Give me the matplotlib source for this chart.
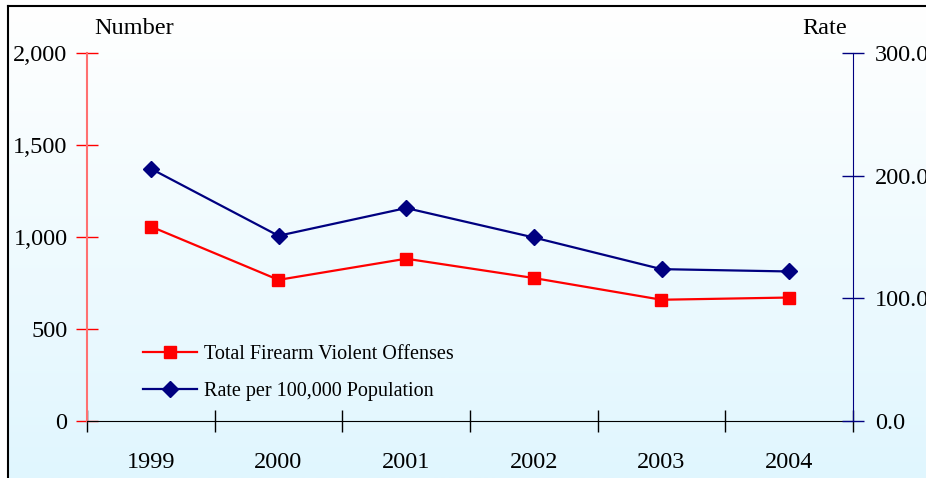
import numpy as np
import matplotlib
matplotlib.use("Agg")
from matplotlib import pyplot as plt
from matplotlib.lines import Line2D
from matplotlib.ticker import FuncFormatter

years = ["1999", "2000", "2001", "2002", "2003", "2004"]
offenses = [1057, 767, 882, 777, 659, 671]
rate = [205.7, 151.0, 173.6, 149.6, 123.8, 121.9]

number_ticks = [0, 500, 1000, 1500, 2000]
rate_ticks = [0, 100, 200, 300]

plt.rcParams['font.family'] = ['Liberation Serif', 'DejaVu Serif']

W, H = 926, 478
fig = plt.figure(figsize=(W / 100, H / 100), dpi=100)

# gradient background inside the frame
bg = fig.add_axes([8 / W, 0, 1 - 8 / W, 1 - 6 / H], zorder=-5)
top_c = np.array([1.0, 1.0, 1.0])
bot_c = np.array([224, 246, 254]) / 255
t = np.linspace(0, 1, 256)[:, None]
grad = top_c * (1 - t) + bot_c * t
bg.imshow(grad[:, None, :], aspect='auto', extent=[0, 1, 0, 1])
bg.axis('off')

fig.add_artist(Line2D([8 / W, 8 / W], [0, 1 - 6 / H], color='black', lw=1.5))
fig.add_artist(Line2D([8 / W, 1], [1 - 6 / H, 1 - 6 / H], color='black', lw=1.5))

ax = fig.add_axes([87 / W, 1 - 421 / H, (853 - 87) / W, (421 - 53) / H])
ax.set_facecolor('none')
ax2 = ax.twinx()

x = np.arange(len(years))
l1, = ax.plot(x, offenses, color='#ff0000', lw=1.6, marker='s', markersize=8,
              label='Total Firearm Violent Offenses')
l2, = ax2.plot(x, rate, color='#000080', lw=1.6, marker='D', markersize=8,
               label='Rate per 100,000 Population')

ax.set_xlim(-0.5, len(years) - 0.5)
ax.set_ylim(0, 2000)
ax2.set_ylim(0, 300)

ax.set_xticks(x)
ax.set_xticklabels(years)
ax.set_xticks(np.arange(len(years) + 1) - 0.5, minor=True)
ax.tick_params(axis='x', which='major', length=0, pad=22, labelsize=17.5)
ax.tick_params(axis='x', which='minor', length=16, direction='inout', color='black', width=1)

ax.set_yticks(number_ticks)
ax.yaxis.set_major_formatter(FuncFormatter(lambda v, p: f"{int(v):,}"))
ax.tick_params(axis='y', length=16, direction='inout', color='#ff0000', width=1,
               pad=6, labelsize=17.5)

ax2.set_yticks(rate_ticks)
ax2.yaxis.set_major_formatter(FuncFormatter(lambda v, p: f"{v:.1f}"))
ax2.tick_params(axis='y', length=16, direction='inout', color='#000080', width=1,
                pad=8, labelsize=17.5)

for a in (ax, ax2):
    a.spines['top'].set_visible(False)
ax.spines['right'].set_visible(False)
ax2.spines['left'].set_visible(False)
ax2.spines['bottom'].set_visible(False)
ax.spines['left'].set_color('#ff7070')
ax.spines['left'].set_linewidth(1.5)
ax.spines['bottom'].set_color('black')
ax2.spines['right'].set_color('#000080')

fig.text(134 / W, 1 - 28 / H, 'Number', ha='center', va='center', fontsize=17.5)
fig.text(825 / W, 1 - 28 / H, 'Rate', ha='center', va='center', fontsize=17.5)

ax2.legend(handles=[l1, l2], loc='upper left', bbox_to_anchor=(0.073, 0.207),
           frameon=False, fontsize=14.5, borderpad=0, borderaxespad=0,
           handlelength=2.7, handletextpad=0.35, labelspacing=0.9)

fig.savefig('out.png', dpi=100)
